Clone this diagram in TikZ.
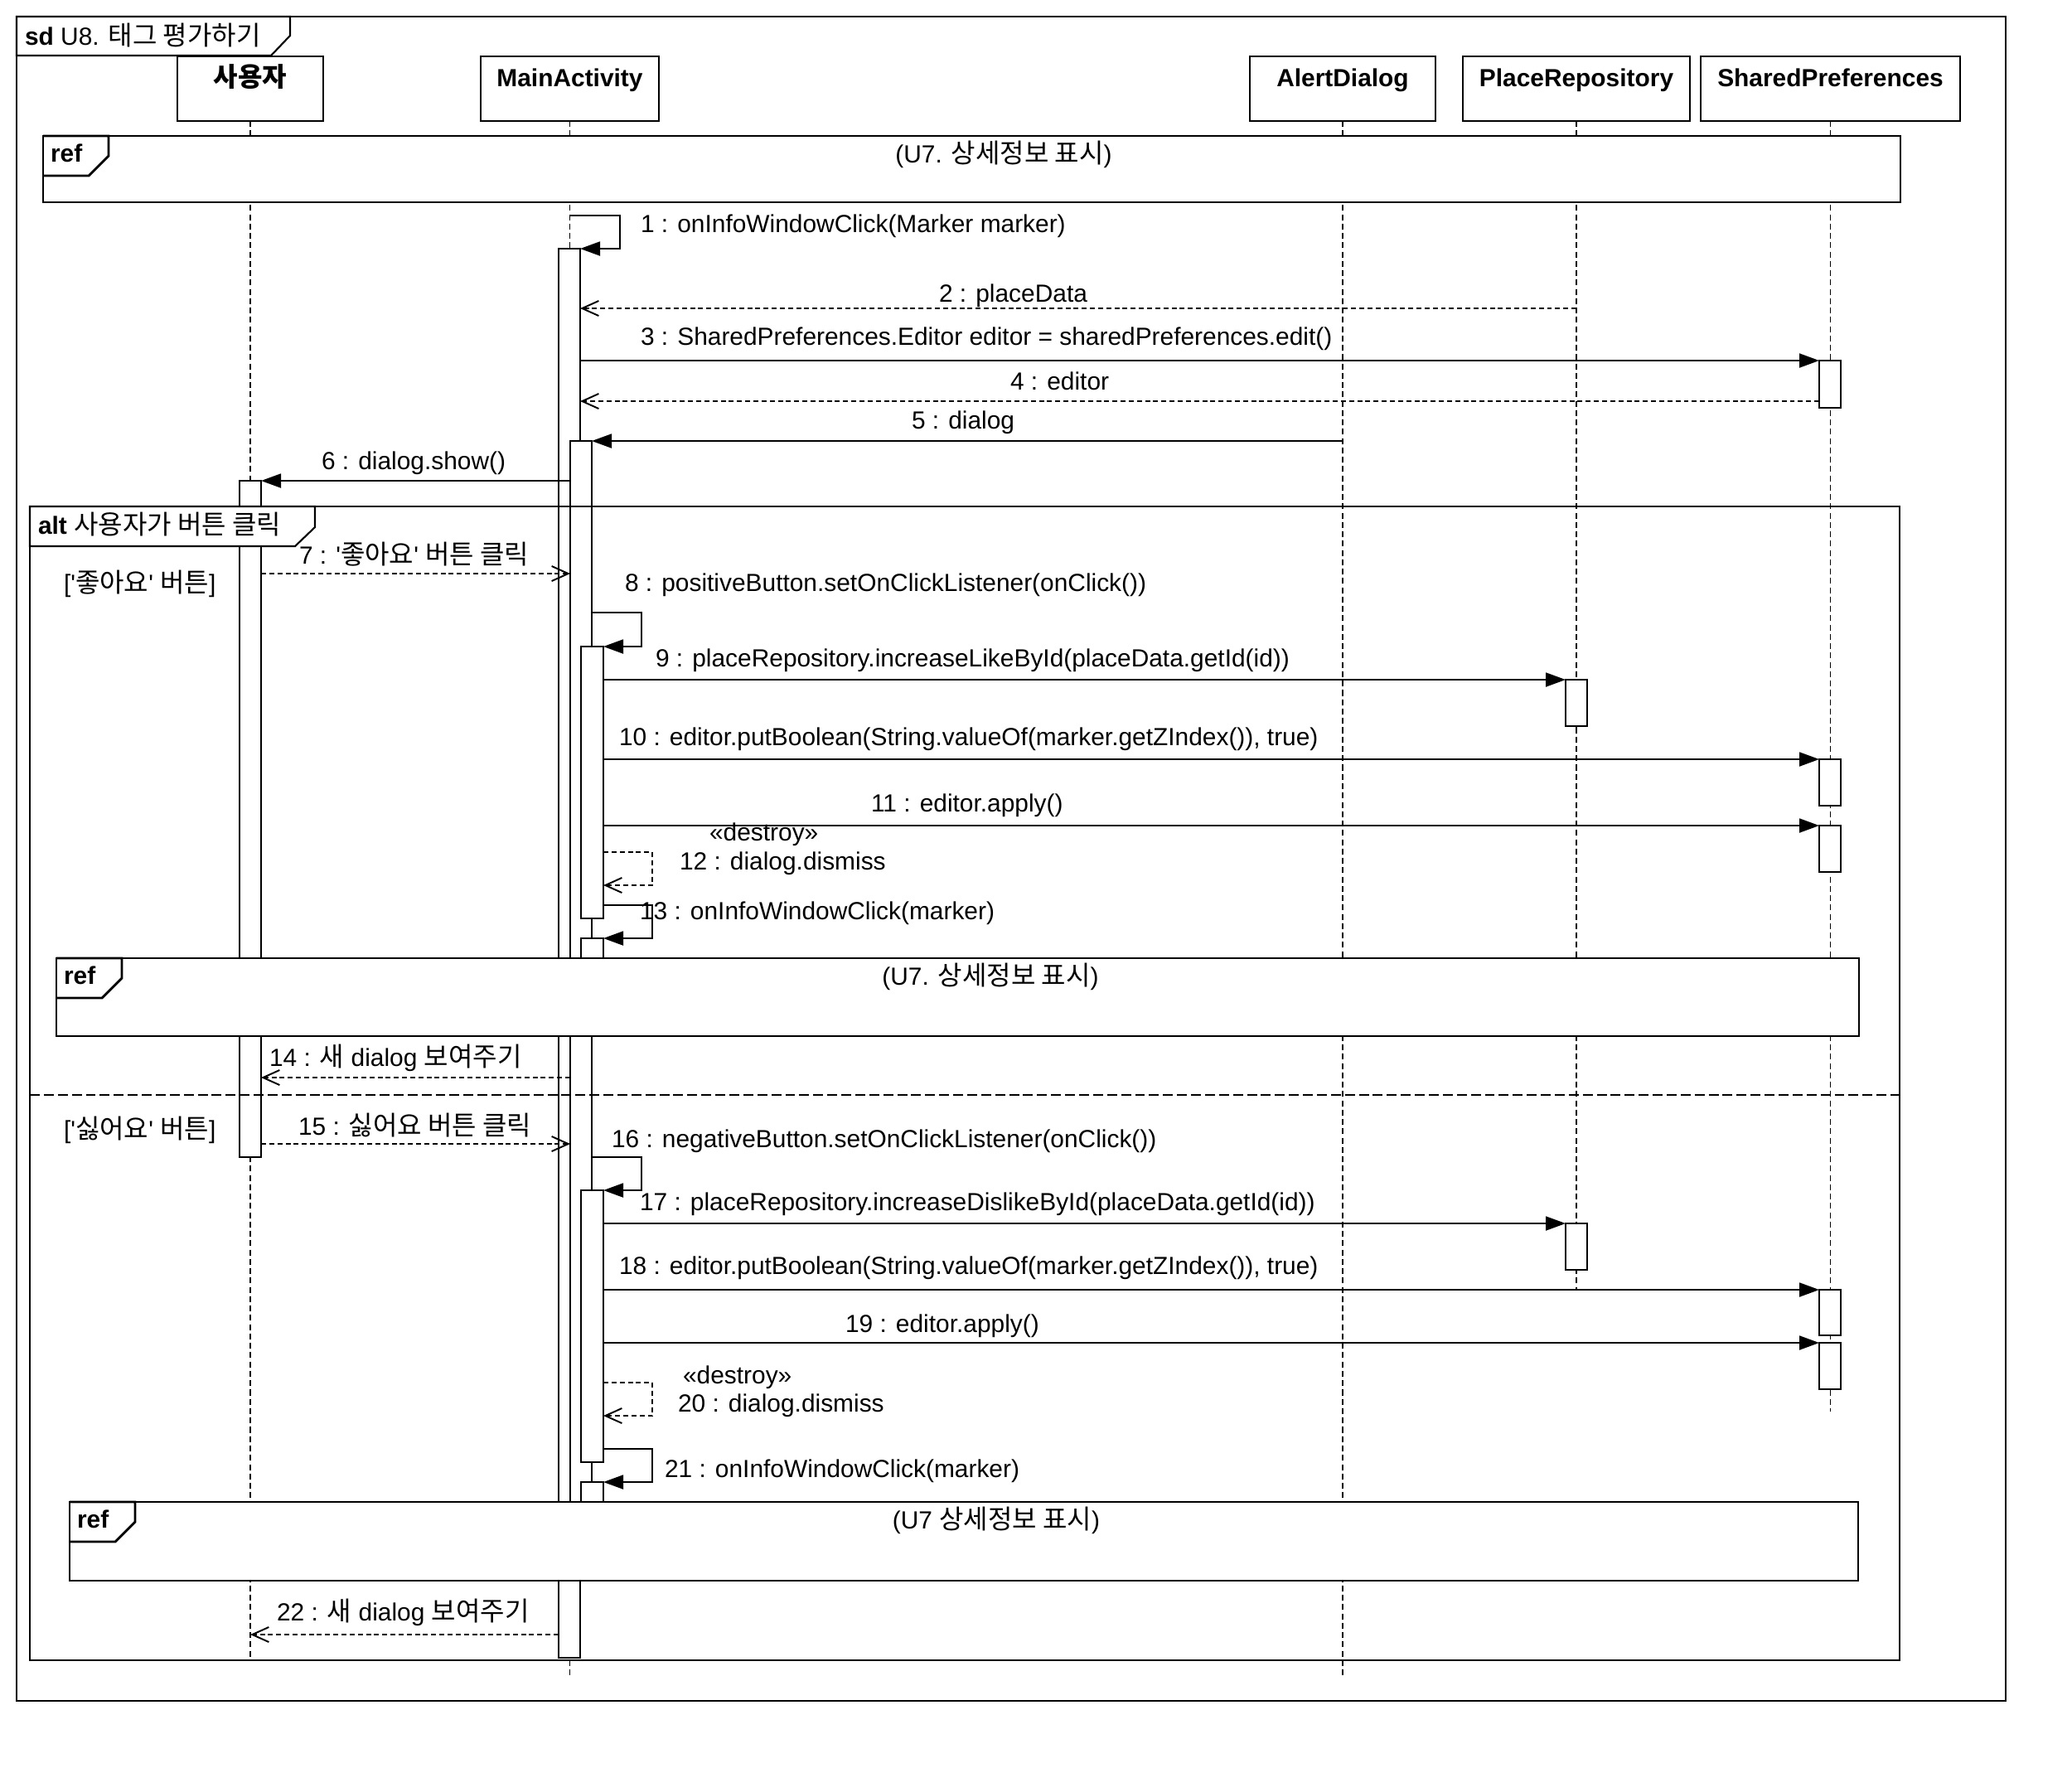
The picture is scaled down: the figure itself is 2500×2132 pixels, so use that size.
\documentclass[tikz,border=0pt]{standalone}
\usepackage{fontspec}
\setmainfont{Liberation Sans}
\newfontfamily\kr[Scale=1.07]{Noto Sans CJK KR}
\usetikzlibrary{arrows.meta,fit}
\newcommand{\sq}{\textquotesingle}

\tikzset{
    headbox/.style={draw, fill=white, line width=0.7pt, outer sep=0pt},
    actbar/.style={draw, fill=white, line width=0.55pt, outer sep=0pt},
    refbox/.style={draw, fill=white, line width=0.8pt, outer sep=0pt},
    tabline/.style={draw, fill=white, line width=0.6pt},
    lifeline/.style={line width=0.5pt, dash pattern=on 2pt off 1.2pt},
    sync/.style={line width=0.55pt, -{Triangle[length=0.24cm,width=0.17cm]}},
    ret/.style={line width=0.55pt, dash pattern=on 1.7pt off 1.1pt, -{Straight Barb[length=0.2cm,width=0.18cm]}},
    lbl/.style={anchor=west}
}

\begin{document}
\begin{tikzpicture}[x=0.01cm, y=-0.01cm, line width=0.6pt,
    every node/.style={inner sep=0pt, font=\fontsize{8.5}{10}\selectfont}]
    \useasboundingbox (0,0) rectangle (2500,2132);
    \fill[white] (0,0) rectangle (2500,2132);

    \draw (20,20) rectangle (2420,2052);
    \draw[tabline] (20,20) -- (350,20) -- (350,43) -- (327,67) -- (20,67) -- cycle;
    \node[lbl] (sdtitle) at (29,43) {{\bfseries sd} U8. {\kr 태그 평가하기}};

    \foreach \nm/\xl/\xr/\yend/\txt in {user/214/390/2002/{\kr 사용자}, main/580/795/2025/MainActivity,
        dialog/1508/1732/2022/AlertDialog, repo/1765/2039/1556/PlaceRepository,
        prefs/2052/2365/1703/SharedPreferences} {
        \node[headbox, fit={(\xl,68)(\xr,146)}] (h\nm) {};
        \node[anchor=base, yshift=-0.36cm] (t\nm) at (h\nm.north) {\bfseries\txt};
        \draw[lifeline] (h\nm.south) -- (h\nm.south |- 0,\yend);
    }

    \foreach \nm/\xl/\yt/\xr/\yb in {a0/674/300/700/2000, a1/688/532/714/1880, a2/701/780/728/1108,
        a3/701/1132/728/1200, a4/701/1436/728/1764, a5/701/1788/728/1880, u1/289/580/315/1396,
        r1/1889/820/1915/876, r2/1889/1476/1915/1532, p1/2195/435/2221/492, p2/2195/916/2221/972,
        p3/2195/996/2221/1052, p4/2195/1556/2221/1611, p5/2195/1620/2221/1676} {
        \node[actbar, fit={(\xl,\yt)(\xr,\yb)}] (\nm) {};
    }

    \draw[sync] (hmain.south |- 0,260) -- (748,260) |- (a0.north east);
    \node[lbl] (m1) at (772,273) {1 : onInfoWindowClick(Marker marker)};
    \draw[ret] (hrepo.south |- 0,372) -- (a0.east |- 0,372);
    \node[lbl] (m2) at (1132,357) {2 : placeData};
    \draw[sync] (a0.east |- 0,435) -- (p1.north west);
    \node[lbl] (m3) at (772,409) {3 : SharedPreferences.Editor editor = sharedPreferences.edit()};
    \draw[ret] (p1.west |- 0,484) -- (a0.east |- 0,484);
    \node[lbl] (m4) at (1218,460) {4 : editor};
    \draw[sync] (hdialog.south |- 0,532) -- (a1.north east);
    \node[lbl] (m5) at (1099,510) {5 : dialog};
    \draw[sync] (a1.west |- 0,580) -- (u1.north east);
    \node[lbl] (m6) at (387,559) {6 : dialog.show()};

    \draw[ret] (u1.east |- 0,692) -- (a1.west |- 0,692);
    \node[lbl] (m7) at (360,669) {7 : \sq{\kr 좋아요}\sq{} {\kr 버튼 클릭}};
    \draw[sync] (a1.east |- 0,739) -- (774,739) |- (a2.north east);
    \node[lbl] (m8) at (753,706) {8 : positiveButton.setOnClickListener(onClick())};
    \draw[sync] (a2.east |- 0,820) -- (r1.north west);
    \node[lbl] (m9) at (790,797) {9 : placeRepository.increaseLikeById(placeData.getId(id))};
    \draw[sync] (a2.east |- 0,916) -- (p2.north west);
    \node[lbl] (m10) at (746,892) {10 : editor.putBoolean(String.valueOf(marker.getZIndex()), true)};
    \draw[sync] (a2.east |- 0,996) -- (p3.north west);
    \node[lbl] (m11) at (1050,972) {11 : editor.apply()};
    \draw[ret] (a2.east |- 0,1028) -- (787,1028) |- (a2.east |- 0,1068);
    \node[lbl] (m12s) at (855,1007) {«destroy»};
    \node[lbl] (m12) at (819,1042) {12 : dialog.dismiss};
    \draw[sync] (a2.east |- 0,1092) -- (787,1092) |- (a3.north east);
    \node[lbl] (m13) at (771,1102) {13 : onInfoWindowClick(marker)};
    \draw[ret] (a1.west |- 0,1300) -- (u1.east |- 0,1300);
    \node[lbl] (m14) at (324,1276) {14 : {\kr 새} dialog {\kr 보여주기}};

    \draw[ret] (u1.east |- 0,1380) -- (a1.west |- 0,1380);
    \node[lbl] (m15) at (359,1358) {15 : {\kr 싫어요 버튼 클릭}};
    \draw[sync] (a1.east |- 0,1396) -- (774,1396) |- (a4.north east);
    \node[lbl] (m16) at (737,1377) {16 : negativeButton.setOnClickListener(onClick())};
    \draw[sync] (a4.east |- 0,1476) -- (r2.north west);
    \node[lbl] (m17) at (771,1453) {17 : placeRepository.increaseDislikeById(placeData.getId(id))};
    \draw[sync] (a4.east |- 0,1556) -- (p4.north west);
    \node[lbl] (m18) at (746,1530) {18 : editor.putBoolean(String.valueOf(marker.getZIndex()), true)};
    \draw[sync] (a4.east |- 0,1620) -- (p5.north west);
    \node[lbl] (m19) at (1019,1600) {19 : editor.apply()};
    \draw[ret] (a4.east |- 0,1668) -- (787,1668) |- (a4.east |- 0,1708);
    \node[lbl] (m20s) at (823,1662) {«destroy»};
    \node[lbl] (m20) at (817,1696) {20 : dialog.dismiss};
    \draw[sync] (a4.east |- 0,1748) -- (787,1748) |- (a5.north east);
    \node[lbl] (m21) at (801,1775) {21 : onInfoWindowClick(marker)};
    \draw[ret] (a0.west |- 0,1972) -- (huser.south |- 0,1972);
    \node[lbl] (m22) at (333,1945) {22 : {\kr 새} dialog {\kr 보여주기}};

    \foreach \nm/\xl/\yt/\xr/\yb/\lx/\txt in {ref1/52/164/2293/244/1211/{(U7. {\kr 상세정보 표시})},
        ref2/68/1156/2243/1250/1195/{(U7. {\kr 상세정보 표시})},
        ref3/84/1812/2242/1907/1202/{(U7 {\kr 상세정보 표시})}} {
        \node[refbox, fit={(\xl,\yt)(\xr,\yb)}] (\nm) {};
        \draw[line width=0.8pt] (\nm.north west) -- ++(79,0) -- ++(0,24) -- ++(-24,24) -- ++(-55,0);
        \node[lbl] (\nm tag) at ([shift={(8,21)}]\nm.north west) {\bfseries ref};
        \node (\nm txt) at (\lx,\yt+22) {\txt};
    }

    \draw (36,611) rectangle (2292,2003);
    \draw[tabline] (36,611) -- (380,611) -- (380,636) -- (356,659) -- (36,659) -- cycle;
    \node[lbl] (alttitle) at (45,633) {{\bfseries alt} {\kr 사용자가 버튼 클릭}};
    \draw[dash pattern=on 3.4pt off 1.4pt] (36,1321) -- (2292,1321);
    \node[lbl] (guard1) at (76,704) {[\sq{\kr 좋아요}\sq{} {\kr 버튼}]};
    \node[lbl] (guard2) at (76,1363) {[\sq{\kr 싫어요}\sq{} {\kr 버튼}]};
\end{tikzpicture}
\end{document}
